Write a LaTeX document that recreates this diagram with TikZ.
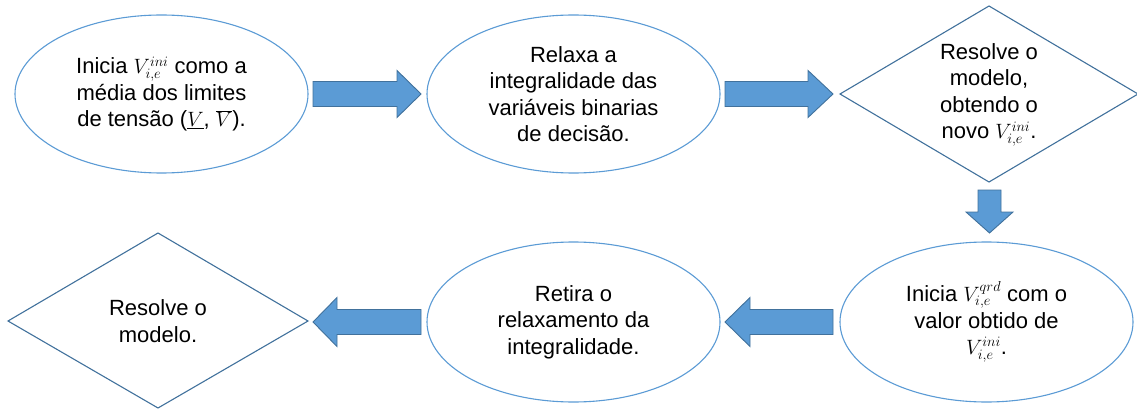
\documentclass[tikz,border=0pt]{standalone}
\usepackage{fontspec}
\setmainfont{Liberation Sans}
\usetikzlibrary{shapes.geometric,calc}
\definecolor{fillblue}{HTML}{5B9BD5}
\definecolor{darkblue}{HTML}{41719C}
\tikzset{
  ell/.style={ellipse, draw=fillblue, line width=1.1pt, fill=white, minimum width=293, minimum height=158, inner sep=0pt, align=center, font=\fontsize{22}{26.5}\selectfont},
  dtext/.style={inner sep=0pt, align=center, font=\fontsize{22}{26.5}\selectfont},
  diam/.style={draw=darkblue, line width=1.1pt, line join=miter},
  blockarrow/.style={fill=fillblue, draw=darkblue, line width=0.9pt, line join=miter}
}
\begin{document}
\begin{tikzpicture}[x=1pt,y=-1pt]
\useasboundingbox (0,0) rectangle (1137,409);
% nodes
\node[ell] (e1) at (161.5,94) {Inicia $V_{i,e}^{ini}$ como a\\média dos limites\\de tensão ($\underline{V}$, $\overline{V}$).};
\node[ell] (e2) at (573.5,94) {Relaxa a\\integralidade das\\variáveis binarias\\de decisão.};
\node[dtext] (d1) at (989,95) {Resolve o\\modelo,\\obtendo o\\novo $V_{i,e}^{ini}$.};
\draw[diam] ($(d1)+(-149,-1)$) -- ($(d1)+(0,-89)$) -- ($(d1)+(149,-1)$) -- ($(d1)+(0,87)$) -- cycle;
\node[ell, minimum height=160] (e3) at (986.5,322) {Inicia $V_{i,e}^{qrd}$ com o\\valor obtido de\\$V_{i,e}^{ini}$.};
\node[ell, minimum height=160] (e4) at (573.5,322) {Retira o\\relaxamento da\\integralidade.};
\node[dtext] (d2) at (158,321) {Resolve o\\modelo.};
\draw[diam] ($(d2)+(-150,0)$) -- ($(d2)+(0,-88)$) -- ($(d2)+(150,0)$) -- ($(d2)+(0,87)$) -- cycle;
% block arrows
\draw[blockarrow] (313,81.5) -- (397,81.5) -- (397,70.5) -- (421,94) -- (397,117.5) -- (397,106.5) -- (313,106.5) -- cycle;
\draw[blockarrow] (725,81.5) -- (808,81.5) -- (808,70.5) -- (833,94) -- (808,117.5) -- (808,106.5) -- (725,106.5) -- cycle;
\draw[blockarrow] (978,190) -- (1001,190) -- (1001,212) -- (1013,212) -- (989.5,233) -- (966,212) -- (978,212) -- cycle;
\draw[blockarrow] (833,309.5) -- (750,309.5) -- (750,297.5) -- (725,322) -- (750,346.5) -- (750,334.5) -- (833,334.5) -- cycle;
\draw[blockarrow] (421,309.5) -- (337,309.5) -- (337,297.5) -- (313,322) -- (337,346.5) -- (337,334.5) -- (421,334.5) -- cycle;
\end{tikzpicture}
\end{document}
